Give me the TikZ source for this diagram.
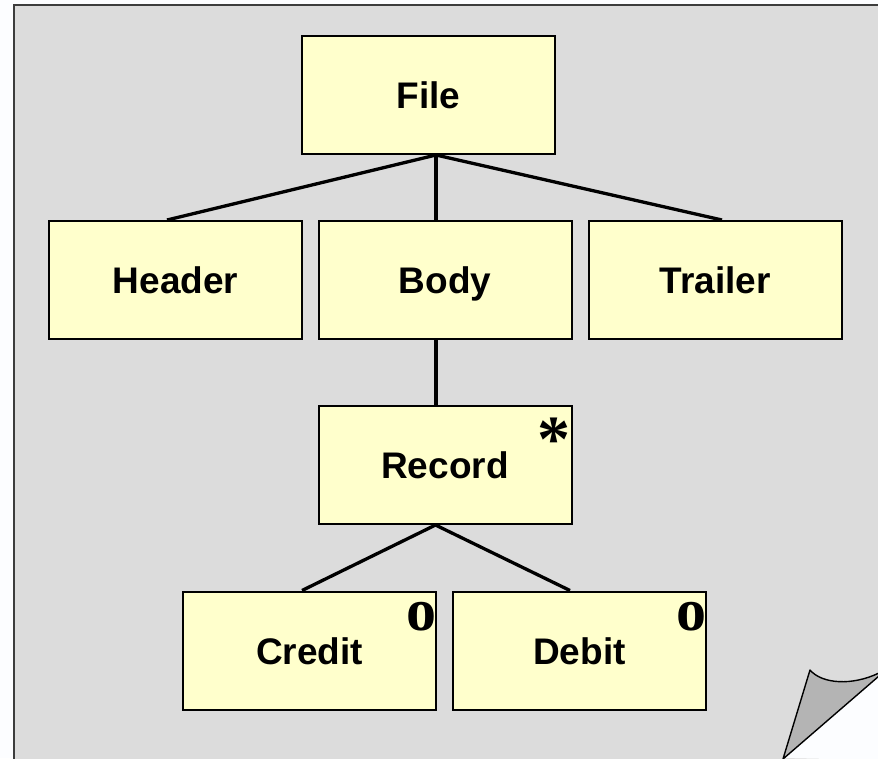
\documentclass[tikz,border=0pt]{standalone}
\usepackage{fontspec}
\setmainfont{Liberation Sans}
\newfontfamily\markfont{Liberation Serif}
\definecolor{pagegray}{HTML}{DCDCDC}
\definecolor{boxyellow}{HTML}{FFFFCC}
\definecolor{flapgray}{HTML}{B4B4B4}
\definecolor{outside}{HTML}{FCFDFF}
\definecolor{pageedge}{HTML}{3C3C3C}
\begin{document}
\begin{tikzpicture}[x=1pt,y=-1pt,
  jbox/.style={draw=black, fill=boxyellow, line width=2pt, minimum width=253pt, minimum height=118pt, inner sep=0pt, text height=27pt, text depth=0pt, font=\fontsize{37}{40}\selectfont\bfseries},
  conn/.style={line width=3.3pt, black},
  marktext/.style={inner sep=0pt, font=\fontsize{60}{60}\selectfont\markfont\bfseries}]
\useasboundingbox (0,0) rectangle (878,758);
\fill[outside] (0,0) rectangle (878,758);
% page
\fill[pagegray] (14,5) rectangle (880,760);
\draw[pageedge, line width=1.6pt] (14,760) -- (14,5) -- (880,5);
% curl: outside region
\fill[outside] (878,676) -- (783,758) -- (880,760) -- (880,676) -- cycle;
\filldraw[fill=flapgray, draw=black, line width=1.4pt, line join=round]
  (783,759) -- (810,670) .. controls (822,684) and (852,686) .. (879,673) -- (879,676) -- cycle;
% nodes
\node[jbox] (file) at (428.5,95) {File};
\node[jbox] (header) at (175.5,280) {Header};
\node[jbox] (body) at (445,280) {Body};
\node[jbox] (trailer) at (715,280) {Trailer};
\node[jbox] (record) at (445,465) {Record};
\node[jbox] (credit) at (309.5,650.5) {Credit};
\node[jbox] (debit) at (579.5,650.5) {Debit};
% marks
\node[marktext, font=\fontsize{66}{66}\selectfont\markfont\bfseries, anchor=base east] (recmark) at (571,461) {*};
\node[marktext, anchor=base east] (credmark) at (437,630) {o};
\node[marktext, anchor=base east] (debmark) at (707,630) {o};
% connector points
\coordinate (fs) at ([xshift=7.5pt]file.south);
\coordinate (hn) at ([xshift=-8.5pt]header.north);
\coordinate (bn) at ([xshift=-9pt]body.north);
\coordinate (tn) at ([xshift=7pt]trailer.north);
\coordinate (bs) at ([xshift=-9pt]body.south);
\coordinate (rn) at ([xshift=-9pt]record.north);
\coordinate (rs) at ([xshift=-9.5pt]record.south);
\coordinate (cn) at ([xshift=-7.5pt]credit.north);
\coordinate (dn) at ([xshift=-9.5pt]debit.north);
\draw[conn] (fs) -- (hn);
\draw[conn] (fs) -- (bn);
\draw[conn] (fs) -- (tn);
\draw[conn] (bs) -- (rn);
\draw[conn] (rs) -- (cn);
\draw[conn] (rs) -- (dn);
\end{tikzpicture}
\end{document}
